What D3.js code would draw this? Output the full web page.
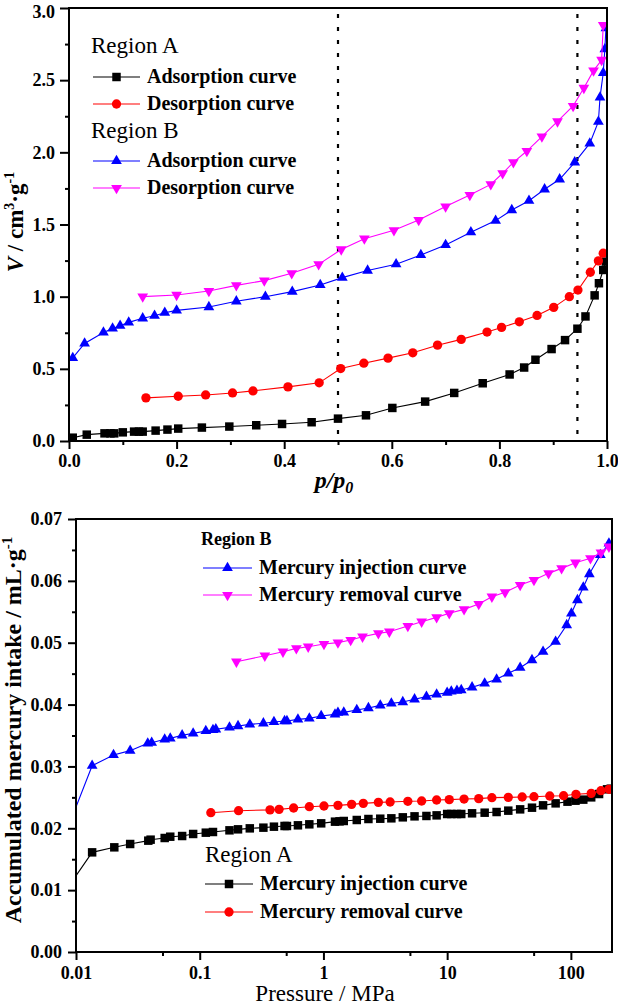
<!DOCTYPE html>
<html>
<head>
<meta charset="utf-8">
<script src="https://cdn.jsdelivr.net/npm/d3@7"></script>
<style>
  html, body { margin: 0; padding: 0; background: #fff; }
  svg { display: block; font-family: "Liberation Serif", "Times New Roman", serif; }
  svg text { font-family: "Liberation Serif", "Times New Roman", serif; }
</style>
</head>
<body>
<svg id="chart" width="618" height="1007"></svg>
<script>
// ---------- Top chart (N2 adsorption) data ----------
const aAdsP = [0.007,0.033,0.066,0.077,0.084,0.100,0.121,0.130,0.137,0.161,0.183,0.203,0.247,0.298,0.348,0.396,0.451,0.500,0.552,0.601,0.662,0.716,0.769,0.819,0.846,0.867,0.897,0.922,0.945,0.960,0.977,0.985,0.993,0.998];
const aAdsV = [0.023,0.044,0.053,0.053,0.053,0.060,0.065,0.065,0.065,0.072,0.079,0.086,0.093,0.100,0.109,0.118,0.130,0.155,0.178,0.229,0.273,0.333,0.400,0.461,0.509,0.563,0.637,0.699,0.778,0.863,1.009,1.093,1.185,1.243];
const aDesP = [0.143,0.203,0.254,0.304,0.342,0.407,0.465,0.505,0.548,0.593,0.639,0.685,0.729,0.777,0.804,0.837,0.870,0.901,0.930,0.946,0.969,0.984,0.993];
const aDesV = [0.299,0.310,0.319,0.333,0.347,0.375,0.403,0.502,0.539,0.574,0.611,0.664,0.704,0.755,0.787,0.826,0.870,0.926,1.000,1.046,1.169,1.248,1.301];
const bAdsP = [0.007,0.029,0.064,0.081,0.095,0.111,0.137,0.159,0.178,0.200,0.260,0.311,0.365,0.415,0.467,0.508,0.555,0.608,0.654,0.700,0.747,0.793,0.823,0.855,0.884,0.912,0.940,0.968,0.984,0.987,0.993,0.996,0.998];
const bAdsV = [0.576,0.676,0.752,0.780,0.799,0.822,0.850,0.868,0.889,0.905,0.928,0.968,1.000,1.035,1.081,1.132,1.181,1.225,1.289,1.358,1.447,1.527,1.600,1.665,1.744,1.813,1.931,2.062,2.212,2.381,2.550,2.715,2.860];
const bDesP = [0.137,0.200,0.260,0.311,0.363,0.414,0.464,0.506,0.549,0.604,0.650,0.700,0.745,0.784,0.806,0.826,0.851,0.879,0.908,0.937,0.957,0.975,0.990,0.993];
const bDesV = [1.000,1.012,1.039,1.078,1.111,1.162,1.224,1.327,1.402,1.460,1.531,1.624,1.704,1.778,1.855,1.931,2.009,2.109,2.214,2.321,2.446,2.566,2.640,2.882];
const dividers = [0.5, 0.945];
const topXTicks = [0, 0.2, 0.4, 0.6, 0.8, 1.0];
const topXMinor = [0.1, 0.3, 0.5, 0.7, 0.9];
const topYTicks = [0, 0.5, 1.0, 1.5, 2.0, 2.5, 3.0];
const topYMinor = [0.25, 0.75, 1.25, 1.75, 2.25, 2.75];

// ---------- Bottom chart (mercury intrusion) data ----------
const hgAInjP = [0.0085,0.0135,0.0204,0.0274,0.0384,0.0401,0.0521,0.0578,0.0721,0.0885,0.112,0.128,0.174,0.204,0.254,0.327,0.398,0.485,0.507,0.622,0.769,0.959,1.24,1.35,1.46,1.86,2.31,2.88,3.54,4.38,5.45,6.80,8.22,10.0,10.8,12.0,13.0,15.9,20.1,25.1,31.2,38.9,48.5,59.6,75.3,93.9,109,126,146,169,196,210];
const hgAInjV = [0.0103,0.01611,0.01692,0.01746,0.01800,0.01816,0.01843,0.01864,0.01875,0.01908,0.01929,0.01940,0.01967,0.01983,0.01999,0.02010,0.02026,0.02037,0.02037,0.02048,0.02064,0.02080,0.02107,0.02112,0.02118,0.02134,0.02150,0.02155,0.02161,0.02177,0.02193,0.02199,0.02209,0.02231,0.02231,0.02231,0.02231,0.02242,0.02252,0.02263,0.02285,0.02306,0.02333,0.02371,0.02403,0.02430,0.02446,0.02463,0.02500,0.02554,0.02630,0.02640];
const hgARemP = [0.123,0.206,0.370,0.438,0.574,0.769,1.01,1.31,1.69,2.10,2.78,3.46,4.81,6.22,8.22,10.4,13.7,18.0,23.0,31.2,40.4,50.3,67.5,87.3,110,146,175,203];
const hgARemV = [0.02252,0.02284,0.02297,0.02306,0.02328,0.02349,0.02360,0.02371,0.02387,0.02403,0.02419,0.02425,0.02436,0.02441,0.02457,0.02463,0.02473,0.02479,0.02495,0.02500,0.02506,0.02511,0.02522,0.02527,0.02549,0.02565,0.02608,0.02630];
const hgBInjP = [0.0085,0.0135,0.0201,0.0274,0.0380,0.0409,0.0521,0.0578,0.0721,0.0885,0.112,0.128,0.135,0.174,0.204,0.254,0.327,0.398,0.485,0.507,0.622,0.769,0.959,1.24,1.31,1.46,1.86,2.31,2.88,3.54,4.38,5.45,6.80,8.22,10.0,10.8,12.0,13.0,15.9,20.1,25.1,31.2,38.9,48.5,59.6,75.3,92.5,101,113,126,141,173,203];
const hgBInjV = [0.0198,0.03012,0.03185,0.03255,0.03373,0.03384,0.03438,0.03454,0.03503,0.03535,0.03573,0.03589,0.03600,0.03632,0.03653,0.03680,0.03697,0.03718,0.03734,0.03734,0.03761,0.03777,0.03815,0.03842,0.03869,0.03874,0.03912,0.03944,0.03987,0.04020,0.04041,0.04085,0.04128,0.04165,0.04192,0.04214,0.04225,0.04235,0.04279,0.04343,0.04408,0.04505,0.04596,0.04720,0.04855,0.05017,0.05286,0.05475,0.05690,0.05895,0.06110,0.06418,0.06606];
const hgBRemP = [0.198,0.336,0.471,0.604,0.753,1.01,1.31,1.66,2.07,2.78,3.41,4.81,6.22,8.22,10.4,13.7,18.0,23.0,29.4,38.9,50.3,66.0,84.1,109,144,175,203];
const hgBRemV = [0.04693,0.04790,0.04855,0.04909,0.04936,0.04979,0.05001,0.05044,0.05097,0.05151,0.05178,0.05270,0.05340,0.05410,0.05475,0.05539,0.05626,0.05744,0.05814,0.05933,0.06014,0.06121,0.06202,0.06294,0.06364,0.06455,0.06552];
const botXTicks = [0.01, 0.1, 1, 10, 100];
const botXLabels = ["0.01", "0.1", "1", "10", "100"];
const botXMinor = [0.05, 0.5, 5, 50];
const botYTicks = [0, 0.01, 0.02, 0.03, 0.04, 0.05, 0.06, 0.07];
const botYMinor = [0.005, 0.015, 0.025, 0.035, 0.045, 0.055, 0.065];

const svg = d3.select("#chart");
const zip = (xs, ys) => xs.map((x, i) => ({x, y: ys[i]}));
const SERIF = '"Liberation Serif", "Times New Roman", serif';

function symbolPath(kind) {
  if (kind === "square") return d3.symbol(d3.symbolSquare, 72)();
  if (kind === "circle") return d3.symbol(d3.symbolCircle, 68)();
  return d3.symbol(d3.symbolTriangle, 50)();
}

function drawSeries(g, data, x, y, color, kind, clipId, markerFilter) {
  g.append("path")
    .datum(data)
    .attr("clip-path", `url(#${clipId})`)
    .attr("fill", "none")
    .attr("stroke", color)
    .attr("stroke-width", 1.1)
    .attr("d", d3.line().x(d => x(d.x)).y(d => y(d.y)));
  g.append("g").attr("clip-path", `url(#${clipId})`)
    .selectAll("path").data(data.filter(markerFilter)).join("path")
    .attr("d", symbolPath(kind))
    .attr("fill", color)
    .attr("transform", d => `translate(${x(d.x)},${y(d.y)})` + (kind === "down" ? " rotate(180)" : ""));
}

function axisStyle(g) {
  g.attr("font-family", SERIF);
  g.select(".domain").remove();
  g.selectAll("line").attr("stroke", "#000").attr("stroke-width", 2);
  g.selectAll("text").attr("font-size", 18).attr("font-weight", "bold").attr("fill", "#000")
    .attr("font-family", SERIF);
}

function legendRow(g, x0, x1, yy, color, kind, label, size) {
  g.append("line").attr("x1", x0).attr("x2", x1).attr("y1", yy).attr("y2", yy)
    .attr("stroke", color).attr("stroke-width", 1.1);
  g.append("path").attr("d", symbolPath(kind)).attr("fill", color)
    .attr("transform", `translate(${(x0 + x1) / 2},${yy})` + (kind === "down" ? " rotate(180)" : ""));
  g.append("text").attr("x", x1 + 7).attr("y", yy + 6).attr("font-size", size)
    .attr("font-weight", "bold").text(label);
}

// ================= TOP CHART =================
{
  const L = 69, R = 607, T = 8, B = 441;
  const x = d3.scaleLinear().domain([0, 1]).range([L, R]);
  const y = d3.scaleLinear().domain([0, 3]).range([B, T]);
  const g = svg.append("g");
  g.append("clipPath").attr("id", "clipTop").append("rect")
    .attr("x", L).attr("y", T).attr("width", R - L).attr("height", B - T);

  g.selectAll("line.div").data(dividers).join("line")
    .attr("x1", d => x(d)).attr("x2", d => x(d)).attr("y1", y(3) + 6).attr("y2", B)
    .attr("stroke", "#000").attr("stroke-width", 2.2).attr("stroke-dasharray", "4,9");

  drawSeries(g, zip(aAdsP, aAdsV), x, y, "#000000", "square", "clipTop", () => true);
  drawSeries(g, zip(aDesP, aDesV), x, y, "#ff0000", "circle", "clipTop", () => true);
  drawSeries(g, zip(bAdsP, bAdsV), x, y, "#0000ff", "up", "clipTop", () => true);
  drawSeries(g, zip(bDesP, bDesV), x, y, "#ff00ff", "down", "clipTop", () => true);

  g.append("g").attr("transform", `translate(0,${B})`)
    .call(d3.axisBottom(x).tickValues(topXMinor).tickSize(4).tickFormat(""))
    .call(axisStyle);
  g.append("g").attr("transform", `translate(0,${B})`)
    .call(d3.axisBottom(x).tickValues(topXTicks).tickSize(8).tickPadding(5).tickFormat(d3.format(".1f")))
    .call(axisStyle);
  g.append("g").attr("transform", `translate(${L},0)`)
    .call(d3.axisLeft(y).tickValues(topYMinor).tickSize(4).tickFormat(""))
    .call(axisStyle);
  const yAx = g.append("g").attr("transform", `translate(${L},0)`)
    .call(d3.axisLeft(y).tickValues(topYTicks).tickSize(9).tickPadding(5).tickFormat(d3.format(".1f")))
    .call(axisStyle);
  // keep the top-most label inside the picture
  yAx.selectAll(".tick text").filter(d => d === 3.0).attr("dy", "0.5em");

  g.append("rect").attr("x", L).attr("y", T).attr("width", R - L).attr("height", B - T)
    .attr("fill", "none").attr("stroke", "#000").attr("stroke-width", 2);

  const lg = g.append("g");
  lg.append("text").attr("x", 91).attr("y", 53).attr("font-size", 23).text("Region A");
  legendRow(lg, 93, 140, 77, "#000000", "square", "Adsorption curve", 20);
  legendRow(lg, 93, 140, 104, "#ff0000", "circle", "Desorption curve", 20);
  lg.append("text").attr("x", 91).attr("y", 138).attr("font-size", 23).text("Region B");
  legendRow(lg, 93, 140, 161, "#0000ff", "up", "Adsorption curve", 20);
  legendRow(lg, 93, 140, 188, "#ff00ff", "down", "Desorption curve", 20);

  const yt = g.append("text").attr("transform", `translate(23,222) rotate(-90)`)
    .attr("text-anchor", "middle").attr("font-size", 23).attr("font-weight", "bold");
  yt.append("tspan").attr("font-style", "italic").text("V");
  yt.append("tspan").text(" / cm");
  yt.append("tspan").attr("font-size", 14).attr("dy", -9).text("3");
  yt.append("tspan").attr("dy", 9).text("·g");
  yt.append("tspan").attr("font-size", 14).attr("dy", -9).text("-1");

  const xt = g.append("text").attr("x", 334).attr("y", 488)
    .attr("text-anchor", "middle").attr("font-size", 24).attr("font-weight", "bold")
    .attr("font-style", "italic");
  xt.append("tspan").text("p/p");
  xt.append("tspan").attr("font-size", 16).attr("dy", 5).text("0");
}

// ================= BOTTOM CHART =================
{
  const L = 76, R = 612, T = 519, B = 952;
  const x = d3.scaleLog().domain([0.01, 215]).range([L, R]);
  const y = d3.scaleLinear().domain([0, 0.07]).range([B, T]);
  const g = svg.append("g");
  g.append("clipPath").attr("id", "clipBot").append("rect")
    .attr("x", L).attr("y", T).attr("width", R - L).attr("height", B - T);

  const inside = d => d.x >= 0.01;
  drawSeries(g, zip(hgAInjP, hgAInjV), x, y, "#000000", "square", "clipBot", inside);
  drawSeries(g, zip(hgARemP, hgARemV), x, y, "#ff0000", "circle", "clipBot", inside);
  drawSeries(g, zip(hgBInjP, hgBInjV), x, y, "#0000ff", "up", "clipBot", inside);
  drawSeries(g, zip(hgBRemP, hgBRemV), x, y, "#ff00ff", "down", "clipBot", inside);

  g.append("g").attr("transform", `translate(0,${B})`)
    .call(d3.axisBottom(x).tickValues(botXMinor).tickSize(4).tickFormat(""))
    .call(axisStyle);
  g.append("g").attr("transform", `translate(0,${B})`)
    .call(d3.axisBottom(x).tickValues(botXTicks).tickSize(8).tickPadding(6)
      .tickFormat((d, i) => botXLabels[i]))
    .call(axisStyle);
  g.append("g").attr("transform", `translate(${L},0)`)
    .call(d3.axisLeft(y).tickValues(botYMinor).tickSize(4).tickFormat(""))
    .call(axisStyle);
  g.append("g").attr("transform", `translate(${L},0)`)
    .call(d3.axisLeft(y).tickValues(botYTicks).tickSize(8).tickPadding(6).tickFormat(d3.format(".2f")))
    .call(axisStyle);

  g.append("rect").attr("x", L).attr("y", T).attr("width", R - L).attr("height", B - T)
    .attr("fill", "none").attr("stroke", "#000").attr("stroke-width", 2);

  const lb = g.append("g");
  lb.append("text").attr("x", 201).attr("y", 545).attr("font-size", 18).attr("font-weight", "bold").text("Region B");
  legendRow(lb, 203, 252, 568, "#0000ff", "up", "Mercury injection curve", 20);
  legendRow(lb, 203, 252, 595, "#ff00ff", "down", "Mercury removal curve", 20);
  const la = g.append("g");
  la.append("text").attr("x", 205).attr("y", 862).attr("font-size", 23).text("Region A");
  legendRow(la, 205, 253, 884, "#000000", "square", "Mercury injection curve", 20);
  legendRow(la, 205, 253, 912, "#ff0000", "circle", "Mercury removal curve", 20);

  const yt = g.append("text").attr("transform", `translate(21,730) rotate(-90)`)
    .attr("text-anchor", "middle").attr("font-size", 24).attr("font-weight", "bold");
  yt.append("tspan").text("Accumulated mercury intake / mL·g");
  yt.append("tspan").attr("font-size", 15).attr("dy", -9).text("-1");

  g.append("text").attr("x", 325).attr("y", 1001).attr("text-anchor", "middle")
    .attr("font-size", 23).text("Pressure / MPa");
}
</script>
</body>
</html>
